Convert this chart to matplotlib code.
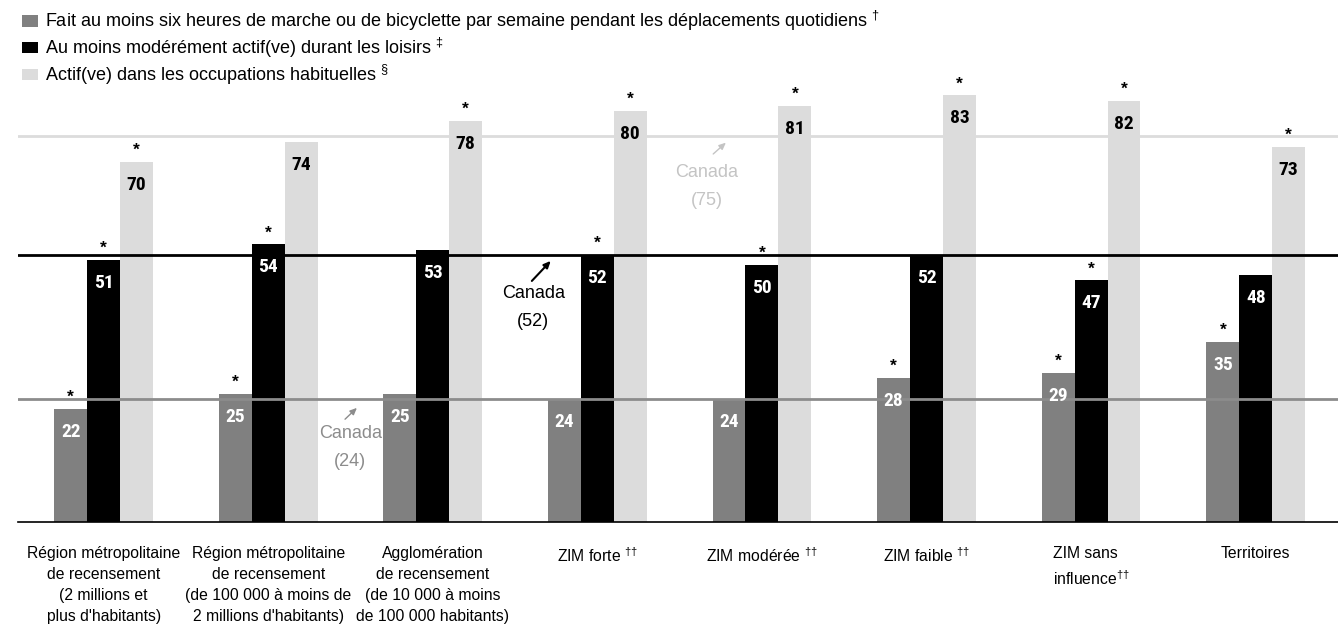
import matplotlib
matplotlib.use('Agg')
import matplotlib.pyplot as plt
import numpy as np

# --- data ---
categories = [
    "Région métropolitaine\nde recensement\n(2 millions et\nplus d'habitants)",
    "Région métropolitaine\nde recensement\n(de 100 000 à moins de\n2 millions d'habitants)",
    "Agglomération\nde recensement\n(de 10 000 à moins\nde 100 000 habitants)",
    "ZIM forte $^{††}$",
    "ZIM modérée $^{††}$",
    "ZIM faible $^{††}$",
    "ZIM sans\ninfluence$^{††}$",
    "Territoires",
]
series_names = [
    "Fait au moins six heures de marche ou de bicyclette par semaine pendant les déplacements quotidiens $^{†}$",
    "Au moins modérément actif(ve) durant les loisirs $^{‡}$",
    "Actif(ve) dans les occupations habituelles $^{§}$",
]
walk_bike = [22, 25, 25, 24, 24, 28, 29, 35]
leisure = [51, 54, 53, 52, 50, 52, 47, 48]
occupation = [70, 74, 78, 80, 81, 83, 82, 73]
walk_bike_sig = [True, True, False, False, False, True, True, True]
leisure_sig = [True, True, False, True, True, False, True, False]
occupation_sig = [True, False, True, True, True, True, True, True]
canada = [24, 52, 75]

colors = ['#808080', '#000000', '#dcdcdc']
label_colors = ['white', 'white', 'black']
line_colors = ['#8c8c8c', '#000000', '#dcdcdc']
num_fonts = ['Roboto Condensed', 'Archivo Narrow', 'PT Sans Narrow', 'DejaVu Sans']

plt.rcParams['font.family'] = ['Liberation Sans', 'DejaVu Sans']
plt.rcParams['mathtext.fontset'] = 'custom'
plt.rcParams['mathtext.rm'] = 'Liberation Sans'
plt.rcParams['mathtext.it'] = 'Liberation Sans'
plt.rcParams['mathtext.default'] = 'regular'

fig = plt.figure(figsize=(13.38, 6.29), dpi=100)
ax = fig.add_axes([18 / 1338, 107 / 629, 1320 / 1338, 462.6 / 629])

x = np.arange(len(categories))
w = 0.2
values = [walk_bike, leisure, occupation]
sigs = [walk_bike_sig, leisure_sig, occupation_sig]
bars = []
for i, (vals, sg) in enumerate(zip(values, sigs)):
    pos = x + (i - 1) * w
    b = ax.bar(pos, vals, width=w, color=colors[i], zorder=2, label=series_names[i])
    bars.append(b)
    for px, v, s in zip(pos, vals, sg):
        ax.annotate(str(v), (px, v), xytext=(0, -20.2), textcoords='offset points',
                    ha='center', va='baseline', color=label_colors[i],
                    fontsize=14, fontweight='bold', family=num_fonts,
                    fontstretch='condensed', zorder=4)
        if s:
            ax.annotate('*', (px, v), xytext=(0, 5), textcoords='offset points',
                        ha='center', va='baseline', color='black', fontsize=12.5,
                        fontweight='bold', zorder=4)

# Canada reference lines (drawn over the bars)
for c, lc in zip(canada, line_colors):
    ax.axhline(c, color=lc, lw=2, zorder=3)

# Canada annotations: text centre, arrow start, arrow end
ann = [
    ((1.498, 14.5), (1.467, 20.0), (1.539, 22.2), '#8c8c8c', 1.0),
    ((2.610, 41.7), (2.602, 46.9), (2.717, 50.8), '#000000', 1.5),
    ((3.665, 65.3), (3.704, 71.6), (3.781, 73.8), '#c4c4c4', 1.0),
]
for idx, ((tx, ty), start, end, col, lw) in enumerate(ann):
    ax.text(tx, ty, f"Canada\n({canada[idx]})", ha='center', va='center', color=col,
            fontsize=13, linespacing=1.8, zorder=4)
    ax.annotate('', xy=end, xytext=start,
                arrowprops=dict(arrowstyle='-|>,head_length=0.4,head_width=0.18',
                                color=col, lw=lw, shrinkA=0, shrinkB=0), zorder=4)

ax.set_xlim(-0.52, 7.50)
ax.set_ylim(0, 90)
for s in ['top', 'right', 'left']:
    ax.spines[s].set_visible(False)
ax.spines['bottom'].set_color('black')
ax.spines['bottom'].set_linewidth(1.2)
ax.set_yticks([])
ax.set_xticks(x)
ax.set_xticklabels([])
ax.tick_params(axis='x', length=0)

for xi, cat in zip(x, categories):
    ma = 'left' if 'sans' in cat else 'center'
    ax.annotate(cat, (xi, 0), xytext=(0, -17.3), textcoords='offset points',
                ha='center', va='top', multialignment=ma, fontsize=11.3,
                linespacing=1.5)

fig.legend(handles=bars, labels=series_names, loc='upper left',
           bbox_to_anchor=(22 / 1338, 1 - 9 / 629), frameon=False, fontsize=13,
           handlelength=0.9, handleheight=0.62, handletextpad=0.35, labelspacing=0.15,
           borderpad=0, borderaxespad=0)

fig.savefig('out.png', dpi=100, facecolor='white')
